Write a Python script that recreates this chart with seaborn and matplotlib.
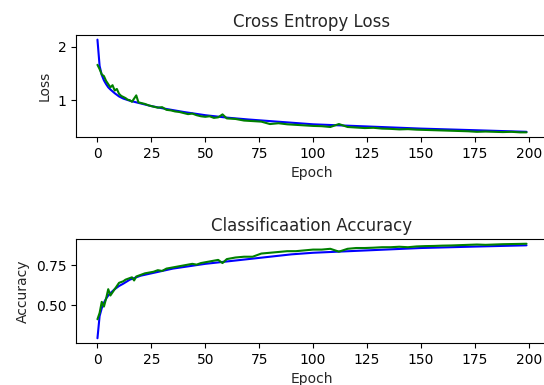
import numpy as np
import pandas as pd
import seaborn as sns
import matplotlib
matplotlib.use("Agg")
import matplotlib.pyplot as plt

# training curve (blue) at a few epochs
train_epochs = [0, 1, 2, 3, 4, 5, 6, 8, 10, 12, 15, 20, 25, 30, 35, 40,
                50, 60, 70, 80, 90, 100, 125, 150, 175, 199]
train_loss = [2.13, 1.64, 1.47, 1.37, 1.30, 1.24, 1.20, 1.13, 1.07, 1.03,
              0.99, 0.94, 0.89, 0.85, 0.815, 0.78, 0.72, 0.675, 0.64, 0.61,
              0.58, 0.55, 0.51, 0.47, 0.44, 0.41]
train_acc = [0.29, 0.43, 0.48, 0.515, 0.54, 0.56, 0.575, 0.60, 0.62, 0.635,
             0.66, 0.685, 0.70, 0.715, 0.73, 0.74, 0.76, 0.775, 0.79, 0.805,
             0.82, 0.83, 0.845, 0.86, 0.869, 0.877]

# test curve (green), noisier
test_epochs = [0, 1, 2, 3, 4, 5, 6, 7, 8, 9, 10, 11, 12, 13, 14, 15, 16, 17,
               18, 19, 20, 22, 24, 26, 28, 30, 32, 34, 36, 38, 40, 42, 44,
               46, 48, 50, 52, 54, 56, 58, 60, 64, 68, 72, 76, 80, 84, 88,
               92, 96, 100, 104, 108, 112, 116, 120, 124, 128, 132, 136,
               140, 144, 148, 152, 156, 160, 164, 168, 172, 176, 180, 184,
               188, 192, 196, 199]
test_loss = [1.66, 1.58, 1.48, 1.45, 1.36, 1.30, 1.24, 1.28, 1.18, 1.21,
             1.12, 1.08, 1.06, 1.04, 1.01, 1.00, 0.97, 1.03, 1.09, 0.96,
             0.95, 0.93, 0.90, 0.88, 0.86, 0.87, 0.82, 0.81, 0.79, 0.78,
             0.76, 0.74, 0.75, 0.72, 0.70, 0.69, 0.70, 0.67, 0.68, 0.735,
             0.66, 0.65, 0.62, 0.61, 0.60, 0.555, 0.57, 0.55, 0.54, 0.53,
             0.52, 0.515, 0.50, 0.555, 0.50, 0.49, 0.48, 0.485, 0.47, 0.465,
             0.455, 0.46, 0.45, 0.445, 0.44, 0.435, 0.43, 0.425, 0.42, 0.41,
             0.415, 0.41, 0.405, 0.41, 0.40, 0.40]
test_acc = [0.41, 0.45, 0.52, 0.49, 0.54, 0.60, 0.56, 0.58, 0.60, 0.62,
            0.64, 0.645, 0.65, 0.66, 0.665, 0.67, 0.675, 0.655, 0.68, 0.685,
            0.69, 0.70, 0.705, 0.71, 0.72, 0.715, 0.73, 0.735, 0.74, 0.745,
            0.75, 0.755, 0.76, 0.755, 0.765, 0.77, 0.775, 0.78, 0.785, 0.765,
            0.79, 0.80, 0.805, 0.805, 0.825, 0.83, 0.835, 0.84, 0.84, 0.845,
            0.85, 0.85, 0.855, 0.837, 0.855, 0.86, 0.86, 0.862, 0.865, 0.865,
            0.868, 0.865, 0.87, 0.872, 0.873, 0.875, 0.876, 0.878, 0.88, 0.882,
            0.88, 0.882, 0.884, 0.885, 0.886, 0.887]

sns.set_style("ticks")
plt.rcParams['font.family'] = ['DejaVu Sans']

fig = plt.figure(figsize=(5.44, 3.85), dpi=100)
ax1 = fig.add_axes([0.1397, 0.6442, 0.8676, 0.2649])
ax2 = fig.add_axes([0.1397, 0.1091, 0.8676, 0.2701])

train = pd.DataFrame({'epoch': train_epochs, 'loss': train_loss, 'acc': train_acc})
test = pd.DataFrame({'epoch': test_epochs, 'loss': test_loss, 'acc': test_acc})

# loss
sns.lineplot(data=train, x='epoch', y='loss', color='blue', lw=1.5, ax=ax1)
sns.lineplot(data=test, x='epoch', y='loss', color='green', lw=1.5, ax=ax1)
ax1.set_title('Cross Entropy Loss', fontsize=12)
ax1.set_xlabel('Epoch', fontsize=10)
ax1.set_ylabel('Loss', fontsize=10)
ax1.set_xlim(-9.95, 208.95)
ax1.set_xticks([0, 25, 50, 75, 100, 125, 150, 175, 200])
ax1.set_yticks([1, 2])

# accuracy
sns.lineplot(data=train, x='epoch', y='acc', color='blue', lw=1.5, ax=ax2)
sns.lineplot(data=test, x='epoch', y='acc', color='green', lw=1.5, ax=ax2)
ax2.set_title('Classificaation Accuracy', fontsize=12)
ax2.set_xlabel('Epoch', fontsize=10)
ax2.set_ylabel('Accuracy', fontsize=10)
ax2.set_xlim(-9.95, 208.95)
ax2.set_xticks([0, 25, 50, 75, 100, 125, 150, 175, 200])
ax2.set_yticks([0.5, 0.75])

for ax in (ax1, ax2):
    ax.tick_params(labelsize=10, colors='black', length=3.5)
    for s in ax.spines.values():
        s.set_color('black')
        s.set_linewidth(0.8)

fig.savefig('out.png', dpi=100)
plt.close(fig)
